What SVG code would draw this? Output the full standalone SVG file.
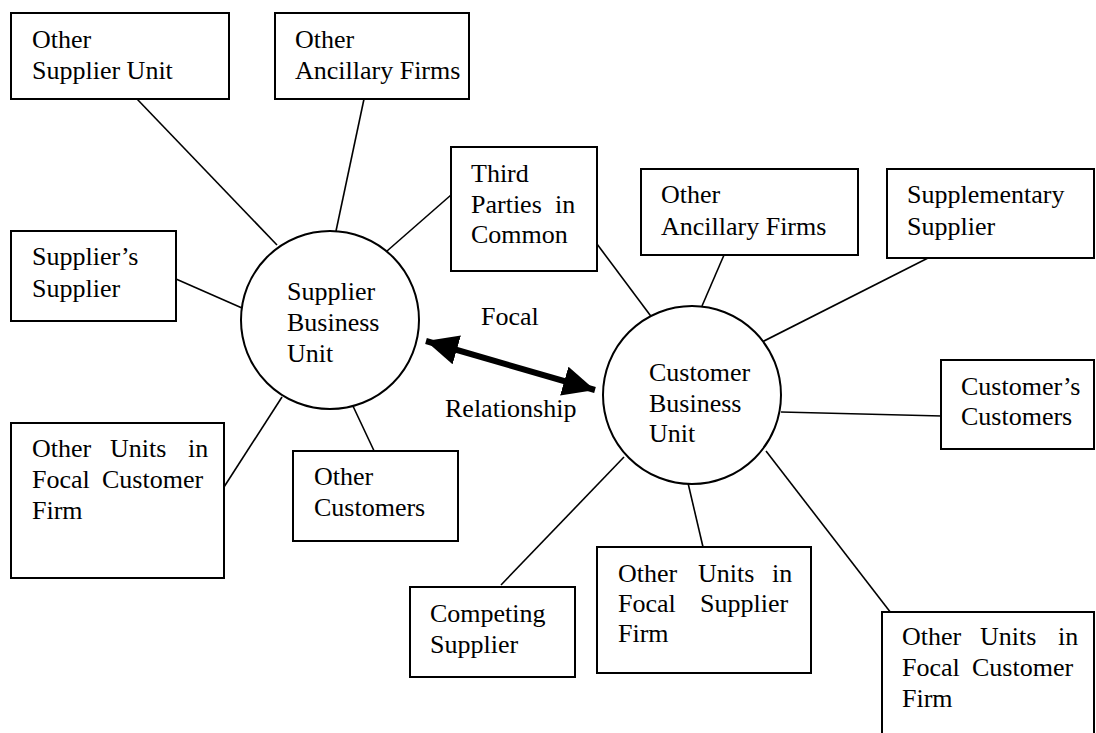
<svg xmlns="http://www.w3.org/2000/svg" width="1096" height="733" viewBox="0 0 1096 733">
  <style>
    .box { fill: #fff; stroke: #000; stroke-width: 2; }
    .unit { fill: #fff; stroke: #000; stroke-width: 2; }
    .link { stroke: #000; stroke-width: 1.6; fill: none; }
    text { font-family: "Liberation Serif", "Times New Roman", serif; font-size: 26px; fill: #000; }
  </style>
  <defs>
    <marker id="head" viewBox="0 0 32 30" refX="32" refY="15" markerWidth="32" markerHeight="30" markerUnits="userSpaceOnUse" orient="auto-start-reverse">
      <path d="M0,0 L32,15 L0,30 Z" fill="#000"/>
    </marker>
  </defs>
  <rect width="1096" height="733" fill="#fff"/>

  <g id="connectors">
    <!-- spokes around the supplier unit -->
    <line class="link" x1="137" y1="99" x2="277" y2="245"/>
    <line class="link" x1="364" y1="99" x2="336" y2="231"/>
    <line class="link" x1="451" y1="195" x2="387" y2="251"/>
    <line class="link" x1="176" y1="279" x2="242" y2="308"/>
    <line class="link" x1="224" y1="487" x2="282" y2="397"/>
    <line class="link" x1="376" y1="455" x2="352" y2="404"/>
    <!-- spokes around the customer unit -->
    <line class="link" x1="597" y1="244" x2="653" y2="319"/>
    <line class="link" x1="724" y1="255" x2="702" y2="306"/>
    <line class="link" x1="930" y1="257" x2="760" y2="343"/>
    <line class="link" x1="781" y1="412" x2="942" y2="416"/>
    <line class="link" x1="624" y1="457" x2="501" y2="585"/>
    <line class="link" x1="688" y1="483" x2="703" y2="547"/>
    <line class="link" x1="766" y1="451" x2="891" y2="613"/>
    <!-- focal relationship, double-headed -->
    <line x1="426" y1="341" x2="595" y2="390" stroke="#000" stroke-width="6" marker-start="url(#head)" marker-end="url(#head)"/>
  </g>

  <g id="supplier-unit">
    <circle class="unit" cx="330" cy="320" r="89"/>
    <text x="287" y="300">Supplier</text>
    <text x="287" y="331">Business</text>
    <text x="287" y="362">Unit</text>
  </g>

  <g id="customer-unit">
    <circle class="unit" cx="692" cy="395" r="89"/>
    <text x="649" y="381">Customer</text>
    <text x="649" y="412">Business</text>
    <text x="649" y="442">Unit</text>
  </g>

  <g id="focal-label">
    <text x="481" y="325">Focal</text>
    <text x="445" y="417">Relationship</text>
  </g>

  <g id="other-supplier-unit">
    <rect class="box" x="11" y="13" width="218" height="86"/>
    <text x="32" y="48">Other</text>
    <text x="32" y="79">Supplier Unit</text>
  </g>

  <g id="other-ancillary-left">
    <rect class="box" x="275" y="13" width="194" height="86"/>
    <text x="295" y="48">Other</text>
    <text x="295" y="79">Ancillary Firms</text>
  </g>

  <g id="third-parties">
    <rect class="box" x="451" y="147" width="146" height="124"/>
    <text x="471" y="182">Third</text>
    <text y="213"><tspan x="471">Parties</tspan><tspan x="555">in</tspan></text>
    <text x="471" y="243">Common</text>
  </g>

  <g id="suppliers-supplier">
    <rect class="box" x="11" y="231" width="165" height="90"/>
    <text x="32" y="265">Supplier’s</text>
    <text x="32" y="297">Supplier</text>
  </g>

  <g id="other-units-customer-left">
    <rect class="box" x="11" y="423" width="213" height="155"/>
    <text y="457"><tspan x="32">Other</tspan><tspan x="110">Units</tspan><tspan x="188">in</tspan></text>
    <text y="488"><tspan x="32">Focal</tspan><tspan x="102">Customer</tspan></text>
    <text x="32" y="519">Firm</text>
  </g>

  <g id="other-customers">
    <rect class="box" x="293" y="451" width="165" height="90"/>
    <text x="314" y="485">Other</text>
    <text x="314" y="516">Customers</text>
  </g>

  <g id="other-ancillary-right">
    <rect class="box" x="641" y="169" width="217" height="86"/>
    <text x="661" y="203">Other</text>
    <text x="661" y="235">Ancillary Firms</text>
  </g>

  <g id="supplementary-supplier">
    <rect class="box" x="887" y="169" width="207" height="89"/>
    <text x="907" y="203">Supplementary</text>
    <text x="907" y="235">Supplier</text>
  </g>

  <g id="customers-customers">
    <rect class="box" x="941" y="360" width="153" height="89"/>
    <text x="961" y="395">Customer’s</text>
    <text x="961" y="425">Customers</text>
  </g>

  <g id="competing-supplier">
    <rect class="box" x="410" y="587" width="165" height="90"/>
    <text x="430" y="622">Competing</text>
    <text x="430" y="653">Supplier</text>
  </g>

  <g id="other-units-supplier">
    <rect class="box" x="597" y="547" width="214" height="126"/>
    <text y="582"><tspan x="618">Other</tspan><tspan x="698">Units</tspan><tspan x="772">in</tspan></text>
    <text y="612"><tspan x="618">Focal</tspan><tspan x="700">Supplier</tspan></text>
    <text x="618" y="642">Firm</text>
  </g>

  <g id="other-units-customer-right">
    <rect class="box" x="882" y="612" width="212" height="140"/>
    <text y="645"><tspan x="902">Other</tspan><tspan x="980">Units</tspan><tspan x="1058">in</tspan></text>
    <text y="676"><tspan x="902">Focal</tspan><tspan x="972">Customer</tspan></text>
    <text x="902" y="707">Firm</text>
  </g>
</svg>
